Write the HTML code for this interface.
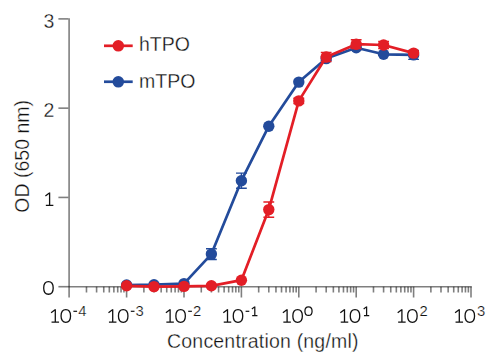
<!DOCTYPE html>
<html><head><meta charset="utf-8"><style>
html,body{margin:0;padding:0;background:#fff;width:500px;height:361px;overflow:hidden}
svg{display:block}
text{font-family:"Liberation Sans",sans-serif;fill:#111111;stroke:#fff;stroke-width:0.3px}
</style></head><body>
<svg width="500" height="361" viewBox="0 0 500 361">
<rect width="500" height="361" fill="#fff"/>
<g stroke="#000" stroke-opacity="0.5" stroke-width="1.6" fill="none">
<line x1="69.1" y1="18.2" x2="69.1" y2="297.5"/>
<line x1="69.9" y1="286.7" x2="471.8" y2="286.7"/>
<line x1="58.4" y1="286.70" x2="69.9" y2="286.70"/>
<line x1="58.4" y1="197.43" x2="68.3" y2="197.43"/>
<line x1="58.4" y1="108.16" x2="68.3" y2="108.16"/>
<line x1="58.4" y1="18.89" x2="68.3" y2="18.89"/>
<line x1="86.48" y1="286.7" x2="86.48" y2="292.5"/>
<line x1="96.59" y1="286.7" x2="96.59" y2="292.5"/>
<line x1="103.76" y1="286.7" x2="103.76" y2="292.5"/>
<line x1="109.32" y1="286.7" x2="109.32" y2="292.5"/>
<line x1="113.87" y1="286.7" x2="113.87" y2="292.5"/>
<line x1="117.71" y1="286.7" x2="117.71" y2="292.5"/>
<line x1="121.04" y1="286.7" x2="121.04" y2="292.5"/>
<line x1="123.97" y1="286.7" x2="123.97" y2="292.5"/>
<line x1="143.88" y1="286.7" x2="143.88" y2="292.5"/>
<line x1="153.99" y1="286.7" x2="153.99" y2="292.5"/>
<line x1="161.16" y1="286.7" x2="161.16" y2="292.5"/>
<line x1="166.72" y1="286.7" x2="166.72" y2="292.5"/>
<line x1="171.27" y1="286.7" x2="171.27" y2="292.5"/>
<line x1="175.11" y1="286.7" x2="175.11" y2="292.5"/>
<line x1="178.44" y1="286.7" x2="178.44" y2="292.5"/>
<line x1="181.37" y1="286.7" x2="181.37" y2="292.5"/>
<line x1="201.28" y1="286.7" x2="201.28" y2="292.5"/>
<line x1="211.39" y1="286.7" x2="211.39" y2="292.5"/>
<line x1="218.56" y1="286.7" x2="218.56" y2="292.5"/>
<line x1="224.12" y1="286.7" x2="224.12" y2="292.5"/>
<line x1="228.67" y1="286.7" x2="228.67" y2="292.5"/>
<line x1="232.51" y1="286.7" x2="232.51" y2="292.5"/>
<line x1="235.84" y1="286.7" x2="235.84" y2="292.5"/>
<line x1="238.77" y1="286.7" x2="238.77" y2="292.5"/>
<line x1="258.68" y1="286.7" x2="258.68" y2="292.5"/>
<line x1="268.79" y1="286.7" x2="268.79" y2="292.5"/>
<line x1="275.96" y1="286.7" x2="275.96" y2="292.5"/>
<line x1="281.52" y1="286.7" x2="281.52" y2="292.5"/>
<line x1="286.07" y1="286.7" x2="286.07" y2="292.5"/>
<line x1="289.91" y1="286.7" x2="289.91" y2="292.5"/>
<line x1="293.24" y1="286.7" x2="293.24" y2="292.5"/>
<line x1="296.17" y1="286.7" x2="296.17" y2="292.5"/>
<line x1="316.08" y1="286.7" x2="316.08" y2="292.5"/>
<line x1="326.19" y1="286.7" x2="326.19" y2="292.5"/>
<line x1="333.36" y1="286.7" x2="333.36" y2="292.5"/>
<line x1="338.92" y1="286.7" x2="338.92" y2="292.5"/>
<line x1="343.47" y1="286.7" x2="343.47" y2="292.5"/>
<line x1="347.31" y1="286.7" x2="347.31" y2="292.5"/>
<line x1="350.64" y1="286.7" x2="350.64" y2="292.5"/>
<line x1="353.57" y1="286.7" x2="353.57" y2="292.5"/>
<line x1="373.48" y1="286.7" x2="373.48" y2="292.5"/>
<line x1="383.59" y1="286.7" x2="383.59" y2="292.5"/>
<line x1="390.76" y1="286.7" x2="390.76" y2="292.5"/>
<line x1="396.32" y1="286.7" x2="396.32" y2="292.5"/>
<line x1="400.87" y1="286.7" x2="400.87" y2="292.5"/>
<line x1="404.71" y1="286.7" x2="404.71" y2="292.5"/>
<line x1="408.04" y1="286.7" x2="408.04" y2="292.5"/>
<line x1="410.97" y1="286.7" x2="410.97" y2="292.5"/>
<line x1="430.88" y1="286.7" x2="430.88" y2="292.5"/>
<line x1="440.99" y1="286.7" x2="440.99" y2="292.5"/>
<line x1="448.16" y1="286.7" x2="448.16" y2="292.5"/>
<line x1="453.72" y1="286.7" x2="453.72" y2="292.5"/>
<line x1="458.27" y1="286.7" x2="458.27" y2="292.5"/>
<line x1="462.11" y1="286.7" x2="462.11" y2="292.5"/>
<line x1="465.44" y1="286.7" x2="465.44" y2="292.5"/>
<line x1="468.37" y1="286.7" x2="468.37" y2="292.5"/>
<line x1="126.60" y1="286.7" x2="126.60" y2="297.5"/>
<line x1="184.00" y1="286.7" x2="184.00" y2="297.5"/>
<line x1="241.40" y1="286.7" x2="241.40" y2="297.5"/>
<line x1="298.80" y1="286.7" x2="298.80" y2="297.5"/>
<line x1="356.20" y1="286.7" x2="356.20" y2="297.5"/>
<line x1="413.60" y1="286.7" x2="413.60" y2="297.5"/>
<line x1="471.00" y1="286.7" x2="471.00" y2="297.5"/>
</g>
<polyline points="126.60,285.00 153.99,284.70 184.00,283.60 211.39,254.10 241.40,180.70 268.79,126.20 298.80,82.10 326.19,58.60 356.20,47.70 383.59,54.30 413.60,54.90" fill="none" stroke="#234b9b" stroke-width="2.7" stroke-linejoin="round"/>
<circle cx="126.60" cy="285.00" r="5.7" fill="#234b9b"/>
<circle cx="153.99" cy="284.70" r="5.7" fill="#234b9b"/>
<circle cx="184.00" cy="283.60" r="5.7" fill="#234b9b"/>
<path d="M211.39,248.74V259.46M205.99,248.74H216.79M205.99,259.46H216.79" stroke="#234b9b" stroke-width="1.4" fill="none"/>
<circle cx="211.39" cy="254.10" r="5.7" fill="#234b9b"/>
<path d="M241.40,173.11V188.29M236.00,173.11H246.80M236.00,188.29H246.80" stroke="#234b9b" stroke-width="1.4" fill="none"/>
<circle cx="241.40" cy="180.70" r="5.7" fill="#234b9b"/>
<circle cx="268.79" cy="126.20" r="5.7" fill="#234b9b"/>
<circle cx="298.80" cy="82.10" r="5.7" fill="#234b9b"/>
<path d="M326.19,56.81V60.39M320.79,56.81H331.59M320.79,60.39H331.59" stroke="#234b9b" stroke-width="1.4" fill="none"/>
<circle cx="326.19" cy="58.60" r="5.7" fill="#234b9b"/>
<path d="M356.20,45.91V49.49M350.80,45.91H361.60M350.80,49.49H361.60" stroke="#234b9b" stroke-width="1.4" fill="none"/>
<circle cx="356.20" cy="47.70" r="5.7" fill="#234b9b"/>
<path d="M383.59,53.41V55.19M378.19,53.41H388.99M378.19,55.19H388.99" stroke="#234b9b" stroke-width="1.4" fill="none"/>
<circle cx="383.59" cy="54.30" r="5.7" fill="#234b9b"/>
<path d="M413.60,50.44V59.36M408.20,50.44H419.00M408.20,59.36H419.00" stroke="#234b9b" stroke-width="1.4" fill="none"/>
<circle cx="413.60" cy="54.90" r="5.7" fill="#234b9b"/>
<polyline points="126.60,285.80 153.99,286.60 184.00,286.40 211.39,285.80 241.40,280.20 268.79,209.60 298.80,100.90 326.19,57.00 356.20,44.20 383.59,45.00 413.60,53.10" fill="none" stroke="#e31e26" stroke-width="2.7" stroke-linejoin="round"/>
<circle cx="126.60" cy="285.80" r="5.7" fill="#e31e26"/>
<circle cx="153.99" cy="286.60" r="5.7" fill="#e31e26"/>
<circle cx="184.00" cy="286.40" r="5.7" fill="#e31e26"/>
<circle cx="211.39" cy="285.80" r="5.7" fill="#e31e26"/>
<circle cx="241.40" cy="280.20" r="5.7" fill="#e31e26"/>
<path d="M268.79,202.01V217.19M263.39,202.01H274.19M263.39,217.19H274.19" stroke="#e31e26" stroke-width="1.4" fill="none"/>
<circle cx="268.79" cy="209.60" r="5.7" fill="#e31e26"/>
<path d="M298.80,98.22V103.58M293.40,98.22H304.20M293.40,103.58H304.20" stroke="#e31e26" stroke-width="1.4" fill="none"/>
<circle cx="298.80" cy="100.90" r="5.7" fill="#e31e26"/>
<path d="M326.19,52.54V61.46M320.79,52.54H331.59M320.79,61.46H331.59" stroke="#e31e26" stroke-width="1.4" fill="none"/>
<circle cx="326.19" cy="57.00" r="5.7" fill="#e31e26"/>
<path d="M356.20,39.74V48.66M350.80,39.74H361.60M350.80,48.66H361.60" stroke="#e31e26" stroke-width="1.4" fill="none"/>
<circle cx="356.20" cy="44.20" r="5.7" fill="#e31e26"/>
<path d="M383.59,41.43V48.57M378.19,41.43H388.99M378.19,48.57H388.99" stroke="#e31e26" stroke-width="1.4" fill="none"/>
<circle cx="383.59" cy="45.00" r="5.7" fill="#e31e26"/>
<path d="M413.60,51.31V54.89M408.20,51.31H419.00M408.20,54.89H419.00" stroke="#e31e26" stroke-width="1.4" fill="none"/>
<circle cx="413.60" cy="53.10" r="5.7" fill="#e31e26"/>
<line x1="104" y1="45.8" x2="132.7" y2="45.8" stroke="#e31e26" stroke-width="2.7"/><circle cx="118.3" cy="45.85" r="5.75" fill="#e31e26"/>
<line x1="104" y1="81.75" x2="132.7" y2="81.75" stroke="#234b9b" stroke-width="2.7"/><circle cx="118.3" cy="81.85" r="5.75" fill="#234b9b"/>
<g font-size="19.5">
<text x="43.5" y="27.6">3</text>
<text x="43.5" y="116.8">2</text>
<path d="M49.60,192.50V205.45M45.85,205.45H53.35M49.70,192.70L45.40,196.00" stroke="#111111" stroke-width="1.30" fill="none"/>
<path d="M48.45,281.55C51.40,281.55 53.20,283.96 53.20,287.90C53.20,291.84 51.40,294.25 48.45,294.25C45.51,294.25 43.70,291.84 43.70,287.90C43.70,283.96 45.51,281.55 48.45,281.55Z" stroke="#111111" stroke-width="1.30" fill="none"/>
<text x="139" y="50.6">hTPO</text>
<text x="139" y="88.2">mTPO</text>
<text x="167.0" y="348.2" textLength="191.5" lengthAdjust="spacing">Concentration (ng/ml)</text>
<text transform="translate(28.6,212.7) rotate(-90)">OD (650 nm)</text>
<path d="M55.30,309.20V322.15M51.55,322.15H59.05M55.40,309.40L51.10,312.70" stroke="#111111" stroke-width="1.30" fill="none"/>
<path d="M65.80,309.65C68.75,309.65 70.55,312.06 70.55,316.00C70.55,319.94 68.75,322.35 65.80,322.35C62.86,322.35 61.05,319.94 61.05,316.00C61.05,312.06 62.86,309.65 65.80,309.65Z" stroke="#111111" stroke-width="1.30" fill="none"/>
<path d="M73.40,311.3H77.10" stroke="#111111" stroke-width="1.2"/>
<text x="78.20" y="315.9" font-size="14.8" style="stroke-width:0.2px">4</text>
<path d="M112.70,309.20V322.15M108.95,322.15H116.45M112.80,309.40L108.50,312.70" stroke="#111111" stroke-width="1.30" fill="none"/>
<path d="M123.20,309.65C126.14,309.65 127.95,312.06 127.95,316.00C127.95,319.94 126.14,322.35 123.20,322.35C120.26,322.35 118.45,319.94 118.45,316.00C118.45,312.06 120.26,309.65 123.20,309.65Z" stroke="#111111" stroke-width="1.30" fill="none"/>
<path d="M130.80,311.3H134.50" stroke="#111111" stroke-width="1.2"/>
<text x="135.60" y="315.9" font-size="14.8" style="stroke-width:0.2px">3</text>
<path d="M170.10,309.20V322.15M166.35,322.15H173.85M170.20,309.40L165.90,312.70" stroke="#111111" stroke-width="1.30" fill="none"/>
<path d="M180.60,309.65C183.55,309.65 185.35,312.06 185.35,316.00C185.35,319.94 183.55,322.35 180.60,322.35C177.66,322.35 175.85,319.94 175.85,316.00C175.85,312.06 177.66,309.65 180.60,309.65Z" stroke="#111111" stroke-width="1.30" fill="none"/>
<path d="M188.20,311.3H191.90" stroke="#111111" stroke-width="1.2"/>
<text x="193.00" y="315.9" font-size="14.8" style="stroke-width:0.2px">2</text>
<path d="M227.50,309.20V322.15M223.75,322.15H231.25M227.60,309.40L223.30,312.70" stroke="#111111" stroke-width="1.30" fill="none"/>
<path d="M238.00,309.65C240.94,309.65 242.75,312.06 242.75,316.00C242.75,319.94 240.94,322.35 238.00,322.35C235.06,322.35 233.25,319.94 233.25,316.00C233.25,312.06 235.06,309.65 238.00,309.65Z" stroke="#111111" stroke-width="1.30" fill="none"/>
<path d="M245.60,311.3H249.30" stroke="#111111" stroke-width="1.2"/>
<path d="M254.80,306.48V315.55M252.18,315.55H257.43M254.90,306.62L251.86,308.93" stroke="#111111" stroke-width="1.24" fill="none"/>
<path d="M287.10,309.20V322.15M283.35,322.15H290.85M287.20,309.40L282.90,312.70" stroke="#111111" stroke-width="1.30" fill="none"/>
<path d="M297.60,309.65C300.54,309.65 302.35,312.06 302.35,316.00C302.35,319.94 300.54,322.35 297.60,322.35C294.65,322.35 292.85,319.94 292.85,316.00C292.85,312.06 294.65,309.65 297.60,309.65Z" stroke="#111111" stroke-width="1.30" fill="none"/>
<path d="M308.50,306.92C310.72,306.92 312.08,308.55 312.08,311.20C312.08,313.85 310.72,315.48 308.50,315.48C306.28,315.48 304.92,313.85 304.92,311.20C304.92,308.55 306.28,306.92 308.50,306.92Z" stroke="#111111" stroke-width="1.24" fill="none"/>
<path d="M344.50,309.20V322.15M340.75,322.15H348.25M344.60,309.40L340.30,312.70" stroke="#111111" stroke-width="1.30" fill="none"/>
<path d="M355.00,309.65C357.94,309.65 359.75,312.06 359.75,316.00C359.75,319.94 357.94,322.35 355.00,322.35C352.05,322.35 350.25,319.94 350.25,316.00C350.25,312.06 352.05,309.65 355.00,309.65Z" stroke="#111111" stroke-width="1.30" fill="none"/>
<path d="M366.60,306.48V315.55M363.97,315.55H369.22M366.70,306.62L363.66,308.93" stroke="#111111" stroke-width="1.24" fill="none"/>
<path d="M401.90,309.20V322.15M398.15,322.15H405.65M402.00,309.40L397.70,312.70" stroke="#111111" stroke-width="1.30" fill="none"/>
<path d="M412.40,309.65C415.34,309.65 417.15,312.06 417.15,316.00C417.15,319.94 415.34,322.35 412.40,322.35C409.45,322.35 407.65,319.94 407.65,316.00C407.65,312.06 409.45,309.65 412.40,309.65Z" stroke="#111111" stroke-width="1.30" fill="none"/>
<text x="419.60" y="315.9" font-size="14.8" style="stroke-width:0.2px">2</text>
<path d="M459.30,309.20V322.15M455.55,322.15H463.05M459.40,309.40L455.10,312.70" stroke="#111111" stroke-width="1.30" fill="none"/>
<path d="M469.80,309.65C472.74,309.65 474.55,312.06 474.55,316.00C474.55,319.94 472.74,322.35 469.80,322.35C466.85,322.35 465.05,319.94 465.05,316.00C465.05,312.06 466.85,309.65 469.80,309.65Z" stroke="#111111" stroke-width="1.30" fill="none"/>
<text x="477.00" y="315.9" font-size="14.8" style="stroke-width:0.2px">3</text>
</g>
</svg>
</body></html>
